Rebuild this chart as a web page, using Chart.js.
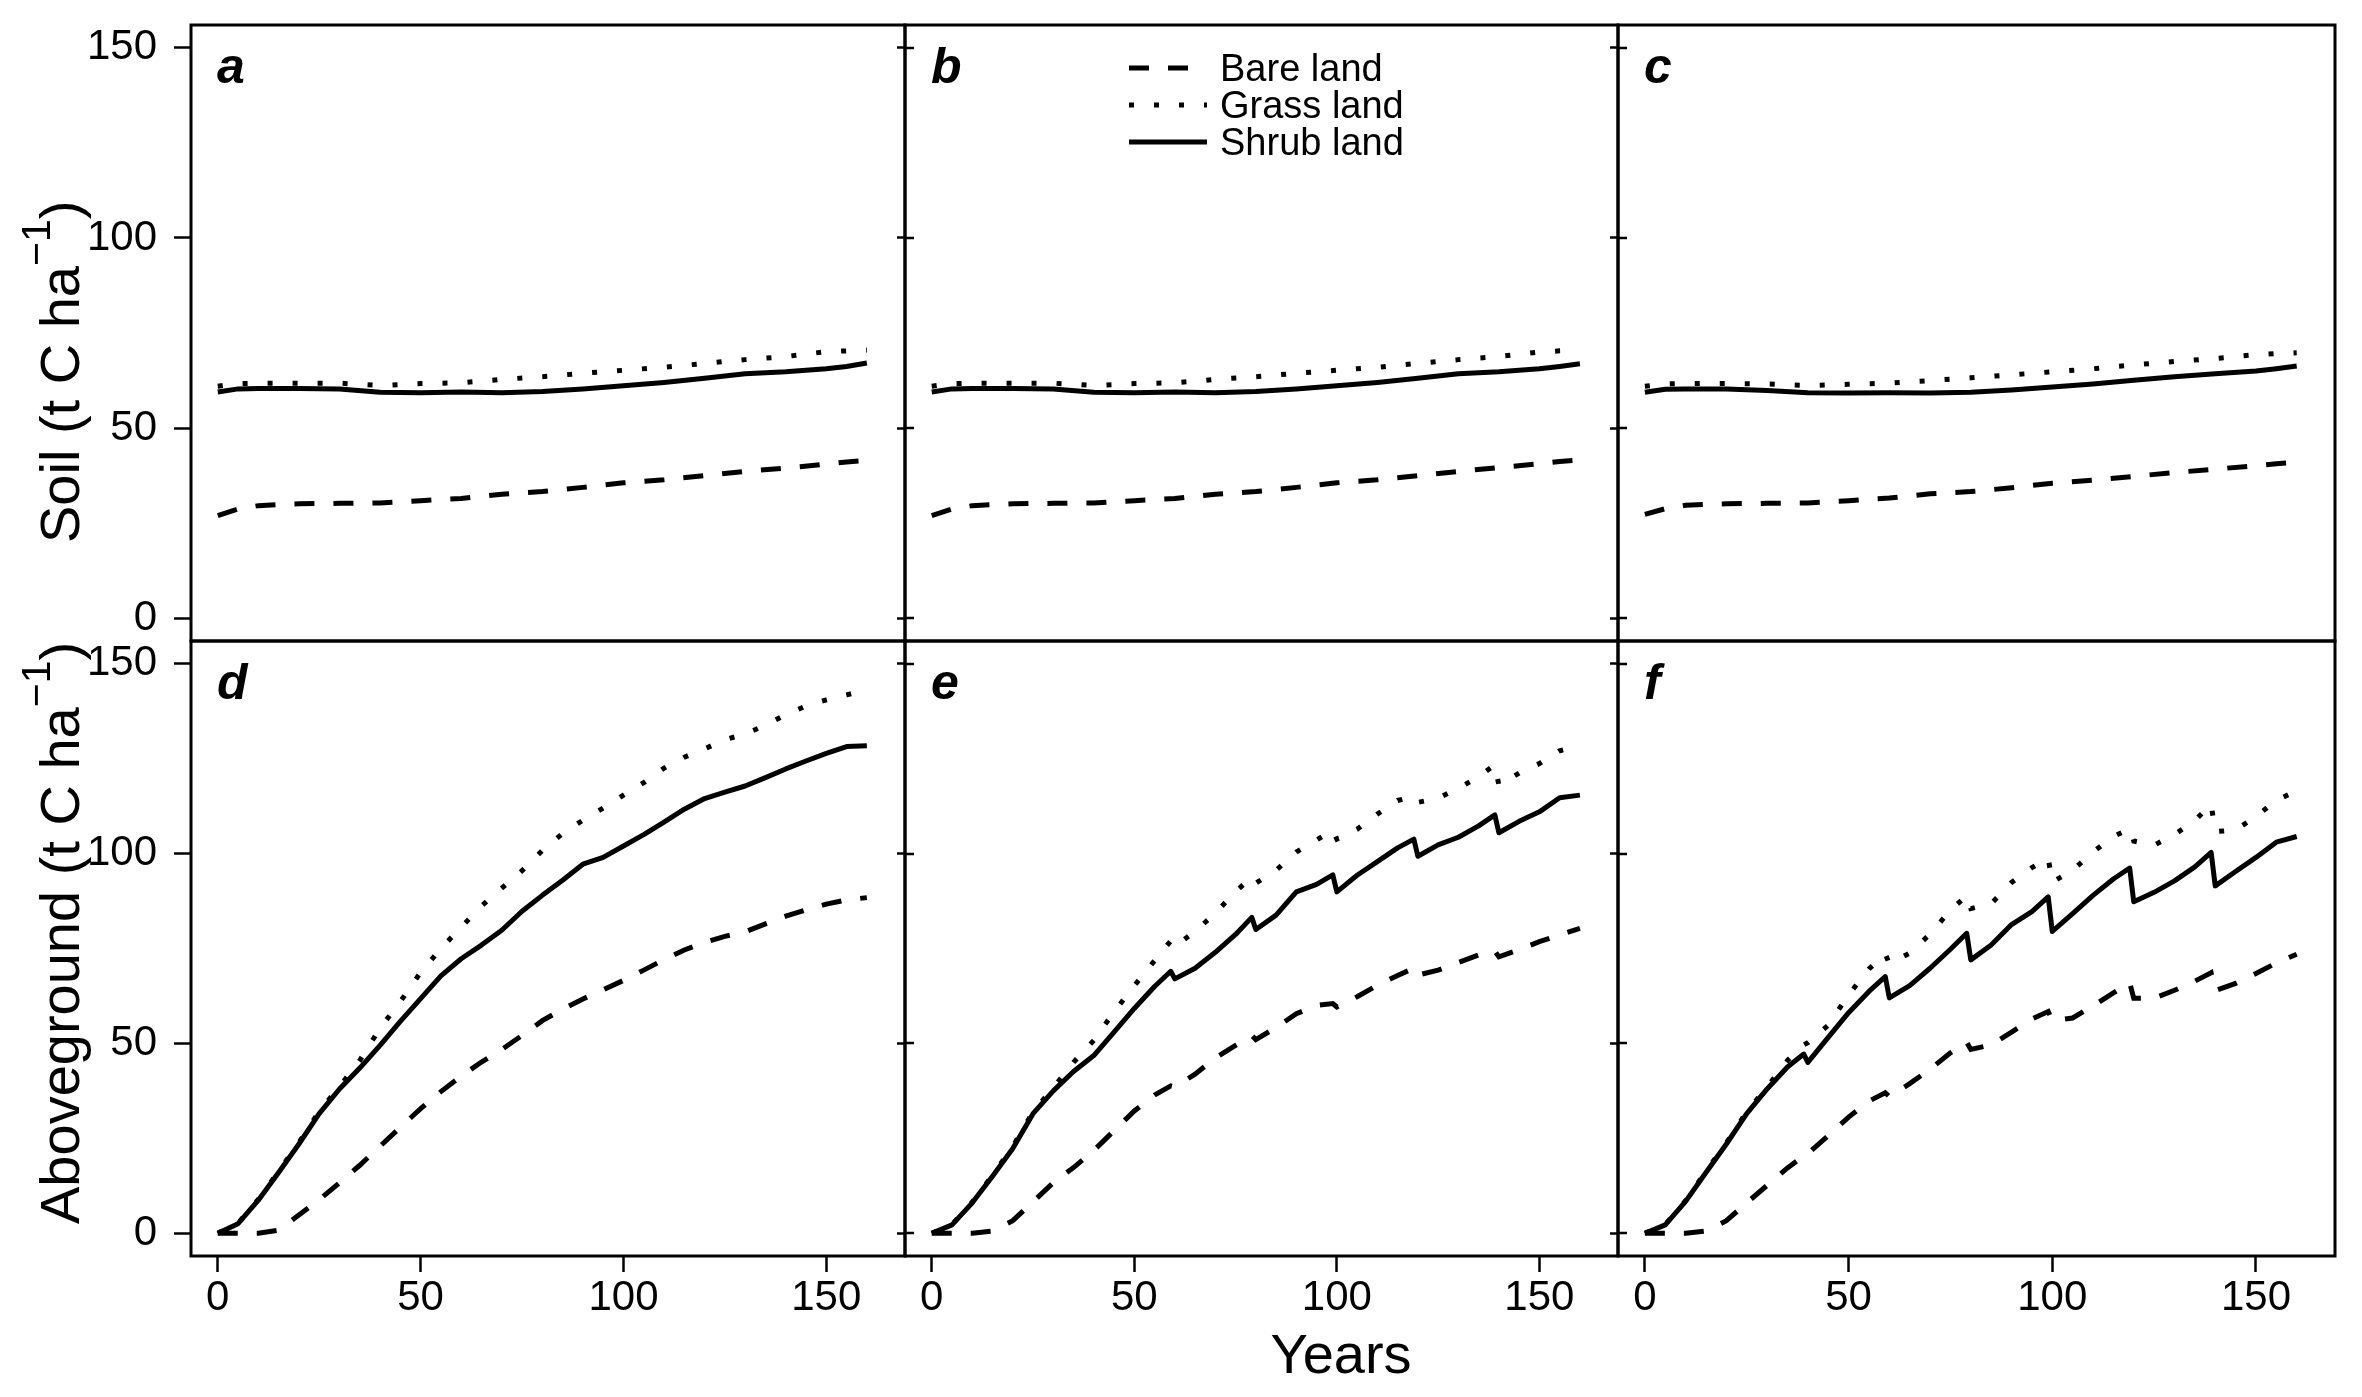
<!DOCTYPE html>
<html>
<head>
<meta charset="utf-8">
<script src="https://cdn.jsdelivr.net/npm/chart.js@4.4.1/dist/chart.umd.min.js"></script>
<style>
  body { margin: 0; background: #fff; }
  #wrap { position: relative; width: 2362px; height: 1397px; background: #fff; overflow: hidden; }
  #wrap canvas { position: absolute; }
</style>
</head>
<body>
<div id="wrap"></div>
<script>
// ---- data ----
const SERIES_NAMES = ['Bare land', 'Grass land', 'Shrub land'];
const X_TICKS = [0, 50, 100, 150];
const Y_TICKS = [0, 50, 100, 150];
const PANEL_LETTERS = ['a', 'b', 'c', 'd', 'e', 'f'];

// soil carbon, panels a-c
const SOIL_YEARS = [0, 5, 10, 20, 30, 40, 50, 60, 70, 80, 90, 100, 110, 120, 130, 140, 150, 155, 160];
const SOIL_BARE_A = [27.0, 28.7, 29.6, 30.1, 30.2, 30.3, 30.9, 31.5, 32.6, 33.3, 34.4, 35.6, 36.4, 37.5, 38.6, 39.5, 40.5, 41.1, 41.5];
const SOIL_GRASS_A = [61.0, 61.7, 61.8, 61.8, 61.8, 61.2, 61.7, 61.9, 62.8, 63.5, 64.4, 65.2, 66.0, 67.0, 68.0, 68.8, 70.1, 70.3, 70.5];
const SOIL_SHRUB_A = [59.5, 60.3, 60.4, 60.4, 60.3, 59.4, 59.3, 59.5, 59.3, 59.6, 60.3, 61.1, 62.0, 63.1, 64.3, 64.8, 65.6, 66.2, 67.1];
const SOIL_BARE_B = [27.0, 28.7, 29.6, 30.1, 30.2, 30.3, 30.9, 31.5, 32.6, 33.3, 34.4, 35.6, 36.4, 37.5, 38.6, 39.6, 40.6, 41.2, 41.6];
const SOIL_GRASS_B = [61.0, 61.7, 61.8, 61.8, 61.8, 61.2, 61.7, 61.9, 62.8, 63.5, 64.4, 65.2, 66.0, 67.0, 68.0, 68.8, 70.0, 70.3, 70.4];
const SOIL_SHRUB_B = [59.5, 60.3, 60.4, 60.4, 60.3, 59.4, 59.3, 59.5, 59.3, 59.6, 60.3, 61.1, 62.0, 63.1, 64.3, 64.8, 65.6, 66.2, 66.9];
const SOIL_BARE_C = [27.3, 28.8, 29.7, 30.1, 30.2, 30.3, 30.9, 31.6, 32.7, 33.3, 34.3, 35.5, 36.3, 37.3, 38.3, 39.2, 40.1, 40.6, 41.0];
const SOIL_GRASS_C = [61.0, 61.6, 61.7, 61.7, 61.6, 61.2, 61.5, 61.8, 62.5, 63.2, 64.0, 64.8, 65.6, 66.6, 67.5, 68.3, 69.3, 69.6, 69.8];
const SOIL_SHRUB_C = [59.4, 60.2, 60.3, 60.3, 59.9, 59.3, 59.2, 59.3, 59.2, 59.4, 60.0, 60.8, 61.6, 62.6, 63.5, 64.3, 65.0, 65.6, 66.3];

// aboveground carbon, panel d
const YEARS_D = [0, 5, 10, 15, 20, 25, 30, 35, 40, 45, 50, 55, 60, 65, 70, 75, 80, 85, 90, 95, 100, 105, 110, 115, 120, 125, 130, 135, 140, 145, 150, 155, 160];
const AG_BARE_D = [0, 0, 0, 0.8, 4.8, 8.8, 13.3, 17.9, 22.9, 27.9, 32.8, 37.3, 41.4, 45.1, 48.4, 52.1, 56, 59, 61.7, 64.1, 66.6, 69.3, 72.1, 74.6, 76.6, 78.2, 79.4, 81.5, 83.5, 85.2, 86.7, 87.8, 88.4];
const AG_GRASS_D = [0, 2.6, 8.9, 16.3, 23.9, 32.1, 38.6, 45.5, 54, 61, 68.7, 75, 80.6, 86.2, 90.9, 95.5, 100.8, 105.3, 108.8, 112, 115.4, 118.7, 122.5, 125.4, 127.6, 130, 131.5, 133.8, 136.6, 138.9, 140.5, 141.8, 143.2];
const AG_SHRUB_D = [0, 2.5, 8.7, 16, 23.5, 31.5, 38, 43.5, 49.5, 55.8, 61.8, 67.8, 72.3, 75.9, 79.8, 84.8, 89, 93, 97.2, 99, 102, 105, 108.3, 111.7, 114.5, 116.2, 117.8, 120, 122.3, 124.4, 126.4, 128.2, 128.4];

// aboveground carbon, panel e
const YEARS_E = [0, 5, 10, 15, 20, 25, 30, 35, 40, 45, 50, 55, 59, 60, 65, 70, 75, 79, 80, 85, 90, 95, 99, 100, 105, 110, 115, 119, 120, 125, 130, 135, 139, 140, 145, 150, 155, 160];
const AG_BARE_E = [0, 0, 0, 0.6, 3.3, 8.3, 13.3, 17.3, 21.8, 27, 32.2, 36.4, 38.8, 38.5, 41.9, 46.2, 49.5, 52.1, 51, 54.2, 57.8, 60, 60.5, 59.6, 62.3, 65.3, 67.9, 69.8, 68, 69.3, 71.3, 73.3, 74.3, 72.8, 74.7, 76.8, 78.6, 80.3];
const AG_GRASS_E = [0, 2.3, 8.2, 15.3, 22.8, 32, 38.3, 45, 50.8, 58.3, 65.2, 71.8, 77, 75.5, 79.5, 84.3, 90, 93.8, 92.2, 95.6, 100.4, 103.6, 106.2, 103.8, 106.4, 110.4, 114, 115, 113.5, 114.6, 117.2, 120.2, 123.4, 118, 121.2, 123.7, 127.1, 128.5];
const AG_SHRUB_E = [0, 2.2, 8, 15, 22.3, 31.5, 37.5, 42.6, 46.8, 53, 59.2, 65, 69, 67, 69.8, 74, 78.7, 83.2, 80, 83.8, 89.9, 91.9, 94.4, 89.9, 94.3, 97.9, 101.5, 103.8, 99.3, 102.3, 104.3, 107.3, 110.2, 105.5, 108.5, 111, 114.7, 115.4];

// aboveground carbon, panel f
const YEARS_F = [0, 5, 10, 15, 20, 25, 30, 35, 39, 40, 45, 50, 55, 59, 60, 65, 70, 75, 79, 80, 85, 90, 95, 99, 100, 105, 110, 115, 119, 120, 125, 130, 135, 139, 140, 145, 150, 155, 160];
const AG_BARE_F = [0, 0, 0, 0.6, 3.3, 8, 12.6, 17.2, 20.4, 21, 25.7, 30.6, 34.8, 37, 36, 39.4, 43.2, 47.5, 50.3, 48.4, 49.6, 53, 56.4, 58.4, 56, 56.7, 59.9, 63.3, 66, 61.9, 61.9, 64, 66.4, 68.6, 63.9, 65.8, 68.4, 71.2, 73.5];
const AG_GRASS_F = [0, 2.3, 8.6, 16.3, 23.8, 32, 38.5, 45.5, 49.6, 50.2, 54.8, 62.8, 69.6, 73.6, 71, 73.8, 78.8, 85.1, 88.9, 85.5, 86.8, 92.4, 96.3, 98.8, 92.5, 95.6, 100.4, 104.5, 106.5, 103.3, 102.2, 105, 108.7, 113, 105.8, 106.2, 109.8, 114, 116.6];
const AG_SHRUB_F = [0, 2.2, 8.4, 16, 23.5, 31.5, 38, 43.8, 47.2, 45, 51.6, 58.1, 63.7, 67.6, 62, 65.2, 69.8, 74.8, 79, 72, 75.9, 81.3, 84.7, 88.6, 79.5, 84.2, 89, 93.3, 96.2, 87.3, 89.8, 92.8, 96.5, 100.3, 91.5, 95.3, 99, 103, 104.5];

// ---- layout ----
const FONT = "'Liberation Sans', Arial, Helvetica, sans-serif";
Chart.defaults.font.family = FONT;
Chart.defaults.color = '#000';

const COL_LEFT = [191, 905, 1618];
const COL_RIGHT = [905, 1618, 2335];
const ROW_TOP = [25, 641];
const ROW_BOTTOM = [641, 1256];
const X_MIN = -6.6, X_MAX = 169.4;
const Y_MIN = -6, Y_MAX = 156;

const LINE_W = 5;
const DASHES = [[20, 19], [5, 20], []];   // bare, grass, shrub

function pts(xs, ys) {
    return xs.map((x, i) => ({ x: x, y: ys[i] }));
}

function makeDatasets(xs, bare, grass, shrub) {
    return [bare, grass, shrub].map((vals, i) => ({
        label: SERIES_NAMES[i],
        data: pts(xs, vals),
        borderColor: '#000',
        borderWidth: LINE_W,
        borderDash: DASHES[i],
        borderCapStyle: 'butt',
        borderJoinStyle: i === 2 ? 'round' : 'miter',
        pointRadius: 0,
        tension: 0,
        fill: false
    }));
}

function drawLegend(ctx, a) {
    ctx.font = '38px ' + FONT;
    ctx.textAlign = 'left';
    ctx.textBaseline = 'alphabetic';
    SERIES_NAMES.forEach((name, i) => {
        const base = a.top + 56 + i * 37;
        const ly = base - 13;
        ctx.save();
        ctx.lineWidth = LINE_W;
        ctx.lineCap = 'butt';
        ctx.setLineDash(DASHES[i]);
        ctx.beginPath();
        ctx.moveTo(a.left + 224, ly);
        ctx.lineTo(a.left + 302, ly);
        ctx.stroke();
        ctx.restore();
        ctx.fillText(name, a.left + 315, base);
    });
}

// rotated axis title with a superscript, start = page y of the text start (bottom)
function drawYTitle(ctx, t, ox, oy) {
    ctx.save();
    ctx.translate(t.bx - ox, t.start - oy);
    ctx.rotate(-Math.PI / 2);
    ctx.textAlign = 'left';
    ctx.textBaseline = 'alphabetic';
    ctx.font = '56px ' + FONT;
    ctx.fillText(t.text, 0, 0);
    let w = ctx.measureText(t.text).width;
    ctx.font = '41px ' + FONT;
    ctx.fillText('\u22121', w, -29);
    w += ctx.measureText('\u22121').width;
    ctx.font = '56px ' + FONT;
    ctx.fillText(')', w, 0);
    ctx.restore();
}

const framePlugin = {
    id: 'frame',
    afterDraw(chart, args, o) {
        const ctx = chart.ctx;
        const a = chart.chartArea;
        ctx.save();
        ctx.strokeStyle = '#000';
        ctx.fillStyle = '#000';
        if (o.innerTicks) {
            const ys = chart.scales.y;
            ctx.lineWidth = 2.5;
            ctx.beginPath();
            ys.ticks.forEach(t => {
                const p = Math.round(ys.getPixelForValue(t.value));
                ctx.moveTo(a.left, p);
                ctx.lineTo(a.left + 9, p);
            });
            ctx.stroke();
        }
        ctx.lineWidth = 3;
        ctx.strokeRect(a.left, a.top, a.right - a.left, a.bottom - a.top);

        ctx.font = 'italic bold 50px ' + FONT;
        ctx.textAlign = 'left';
        ctx.textBaseline = 'alphabetic';
        ctx.fillText(o.letter, a.left + 26, a.top + 58);

        if (o.legend) drawLegend(ctx, a);
        if (o.yTitle) drawYTitle(ctx, o.yTitle, o.ox, o.oy);
        if (o.xTitle) {
            ctx.font = '56px ' + FONT;
            ctx.textAlign = 'center';
            ctx.fillText(o.xTitle.text, o.xTitle.cx - o.ox, o.xTitle.base - o.oy);
        }
        ctx.restore();
    }
};

const PANELS = [
    { col: 0, row: 0, xs: SOIL_YEARS, s: [SOIL_BARE_A, SOIL_GRASS_A, SOIL_SHRUB_A],
      yTitle: { text: 'Soil (t C ha', bx: 79, start: 543 } },
    { col: 1, row: 0, xs: SOIL_YEARS, s: [SOIL_BARE_B, SOIL_GRASS_B, SOIL_SHRUB_B], legend: true },
    { col: 2, row: 0, xs: SOIL_YEARS, s: [SOIL_BARE_C, SOIL_GRASS_C, SOIL_SHRUB_C] },
    { col: 0, row: 1, xs: YEARS_D, s: [AG_BARE_D, AG_GRASS_D, AG_SHRUB_D],
      yTitle: { text: 'Aboveground (t C ha', bx: 79, start: 1224 } },
    { col: 1, row: 1, xs: YEARS_E, s: [AG_BARE_E, AG_GRASS_E, AG_SHRUB_E],
      xTitle: { text: 'Years', cx: 1341, base: 1373 } },
    { col: 2, row: 1, xs: YEARS_F, s: [AG_BARE_F, AG_GRASS_F, AG_SHRUB_F] }
];

const wrap = document.getElementById('wrap');

PANELS.forEach((p, k) => {
    const axW = p.col === 0 ? 191 : 20;
    const bottomRow = p.row === 1;
    const xAxH = bottomRow ? 1397 - ROW_BOTTOM[1] : 0;
    const left = COL_LEFT[p.col] - axW;
    const top = ROW_TOP[p.row] - 10;
    const width = COL_RIGHT[p.col] + 10 - left;
    const height = (bottomRow ? 1397 : ROW_BOTTOM[0] + 10) - top;

    const cv = document.createElement('canvas');
    cv.width = width;
    cv.height = height;
    cv.style.left = left + 'px';
    cv.style.top = top + 'px';
    cv.style.width = width + 'px';
    cv.style.height = height + 'px';
    wrap.appendChild(cv);

    new Chart(cv.getContext('2d'), {
        type: 'line',
        data: { datasets: makeDatasets(p.xs, p.s[0], p.s[1], p.s[2]) },
        plugins: [framePlugin],
        options: {
            responsive: false,
            animation: false,
            devicePixelRatio: 1,
            events: [],
            layout: { padding: { left: 0, top: 10, right: 10, bottom: bottomRow ? 0 : 10 } },
            plugins: {
                legend: { display: false },
                tooltip: { enabled: false },
                frame: {
                    letter: PANEL_LETTERS[k],
                    innerTicks: p.col > 0,
                    legend: !!p.legend,
                    yTitle: p.yTitle,
                    xTitle: p.xTitle,
                    ox: left,
                    oy: top
                }
            },
            scales: {
                x: {
                    type: 'linear',
                    min: X_MIN,
                    max: X_MAX,
                    display: bottomRow,
                    afterBuildTicks: s => { s.ticks = X_TICKS.map(v => ({ value: v })); },
                    afterFit: s => { s.height = xAxH; s.paddingLeft = 0; s.paddingRight = 0; },
                    border: { display: false },
                    grid: { display: true, drawOnChartArea: false, drawTicks: true, tickLength: 16, tickWidth: 2.5, tickColor: '#000' },
                    ticks: { autoSkip: false, maxRotation: 0, font: { size: 42 }, color: '#000', padding: 1 }
                },
                y: {
                    type: 'linear',
                    min: Y_MIN,
                    max: Y_MAX,
                    afterBuildTicks: s => { s.ticks = Y_TICKS.map(v => ({ value: v })); },
                    afterFit: s => { s.width = axW; s.paddingTop = 0; s.paddingBottom = 0; },
                    border: { display: false },
                    grid: { display: true, drawOnChartArea: false, drawTicks: true, tickLength: p.col === 0 ? 17 : 8, tickWidth: 2.5, tickColor: '#000' },
                    ticks: { display: p.col === 0, autoSkip: false, font: { size: 42 }, color: '#000', padding: 17 }
                }
            }
        }
    });
});
</script>
</body>
</html>
